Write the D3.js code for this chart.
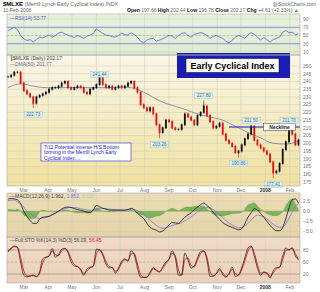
<!DOCTYPE html>
<html>
<head>
<meta charset="utf-8">
<script src="https://cdn.jsdelivr.net/npm/d3@7"></script>
<style>
  body { margin: 0; background: #fff; }
  svg { display: block; font-family: Arial, "Liberation Sans", sans-serif; }
</style>
</head>
<body>
<div id="chart"></div>
<script>
var svgWidth = 320;
var svgHeight = 292;
var left = 7, right = 300;

// samples every 4 calendar days, 9-Feb-2007 .. 12-Feb-2008
var startDate = new Date(2007, 1, 9);
var stepDays = 4;

var closes = [243,244,246,246,239,234,232,230,226,230,
  231,232,233,235,236,236,237,239,240,236,
  235,236,237,236,233,232,235,236,238,243,
  238,236,237,235,236,237,236,237,239,240,
  236,233,225,223,221,223,219,212,207,210,
  215,214,210,209,209,212,219,217,215,212,
  218,220,224,218,214,210,211,213,206,202,
  200,198,194,195,199,203,206,211,202,199,
  197,195,193,188,181,182,187,196,201,209,
  206,199,202.17];

// 50-day moving average, every 16 days
var dma50 = [236,238.5,237,236,236,236,236,236,236,236.5,235.5,232,
  227.5,224.5,222,219,217,215,211,207,203.5,200,199.5,201.5];

var rsi = [62,66,70,64,50,42,38,40,34,40,
  46,44,48,51,46,50,56,58,54,51,
  48,45,50,47,43,48,51,55,66,60,
  55,51,50,47,46,50,56,52,51,57,
  52,46,36,32,39,42,43,36,39,42,
  46,50,49,43,50,55,57,50,46,53,
  55,57,55,50,43,48,50,46,43,36,
  32,38,46,50,47,43,52,57,53,46,
  39,45,40,34,40,43,46,58,62,57,
  58,52,53.77];

var macd = [3.0,3.1,3.0,2.8,1.8,0.0,-1.3,-2.3,-3.0,-3.0,
  -2.0,-1.5,-1.4,-1.3,-0.9,-0.5,0.0,0.5,0.9,1.0,
  0.9,0.6,0.4,0.2,0.0,-0.2,-0.3,0.3,1.4,1.1,
  0.7,0.5,0.3,0.25,0.25,0.25,0.25,0.25,0.4,0.7,
  0.3,-0.5,-1.2,-1.8,-3.0,-4.0,-4.4,-4.7,-5.1,-4.9,
  -4.2,-3.4,-2.8,-2.9,-3.0,-2.3,-1.5,-0.9,-0.4,0.4,
  1.0,1.6,2.0,1.4,0.7,-0.3,-1.2,-2.0,-2.8,-3.3,
  -3.7,-4.0,-4.3,-4.6,-4.3,-3.1,-1.5,-0.4,0.6,0.3,
  -0.6,-1.5,-2.5,-3.5,-4.3,-4.8,-4.8,-4.0,-1.8,0.8,
  2.8,3.0,1.962];

var signal = [2.6,2.7,2.7,2.3,1.8,1.0,0.0,-0.5,-1.2,-1.6,
  -1.8,-1.7,-1.5,-1.2,-0.8,-0.4,0.0,0.4,0.6,0.8,
  0.9,0.9,0.8,0.6,0.4,0.3,0.2,0.3,0.6,0.7,
  0.7,0.6,0.5,0.4,0.35,0.3,0.3,0.3,0.35,0.45,
  0.4,0.1,-0.3,-0.8,-1.5,-2.3,-2.9,-3.5,-4.0,-4.2,
  -4.1,-3.8,-3.5,-3.3,-3.1,-2.8,-2.4,-1.9,-1.4,-0.8,
  -0.2,0.3,0.8,0.9,0.8,0.4,-0.2,-0.9,-1.6,-2.3,
  -2.9,-3.4,-3.8,-4.1,-4.0,-3.6,-3.0,-2.2,-1.4,-1.0,
  -1.1,-1.4,-1.9,-2.6,-3.2,-3.7,-4.0,-3.9,-3.1,-1.7,
  -0.2,1.2,1.852];

var stoK = [78,85,90,86,50,17,13,15,17,13,
  25,58,62,65,84,62,68,82,84,74,
  50,40,38,30,17,32,37,40,82,80,
  67,45,35,37,22,35,52,58,52,78,
  68,35,12,11,12,25,36,28,25,38,
  50,58,78,60,17,17,72,55,35,40,
  60,76,78,55,14,15,22,34,18,12,
  22,37,14,18,35,60,85,90,65,35,
  17,25,22,10,28,36,37,65,85,80,
  86,65,56.09];

var stoD = [75,83,88,87,61,28,15,15,16,14,
  22,48,61,64,78,68,66,78,83,77,
  58,44,39,33,21,28,35,39,69,81,
  71,52,39,36,27,32,47,56,54,70,
  71,45,19,12,12,21,33,30,26,34,
  46,56,72,65,30,17,56,60,41,38,
  54,71,77,62,26,15,20,30,23,14,
  19,32,21,17,30,52,77,88,72,44,
  22,23,23,14,23,33,37,56,79,81,
  84,71,56.45];

var monthLabels = ["Mar","Apr","May","Jun","Jul","Aug","Sep","Oct","Nov","Dec","2008","Feb"];
var priceTicks = d3.range(175, 251, 5);
var rsiTicks = [10, 30, 50, 70, 90];
var macdTicks = [2.5, 0, -2.5, -5];
var stoTicks = [20, 50, 80];

// price annotations: sample index, value, above/below
var notes = [
  {i: 8, value: 222.73, pos: "low"},
  {i: 29, value: 241.44, pos: "high"},
  {i: 62, value: 227.80, pos: "high"},
  {i: 48, value: 203.26, pos: "low"},
  {i: 73, value: 190.86, pos: "low"},
  {i: 77, value: 211.50, pos: "high"},
  {i: 84, value: 177.41, pos: "low"},
  {i: 89, value: 211.70, pos: "high"}
];
var necklineStart = 70, necklineValue = 210.6;

var dates = closes.map(function(d, i) { return d3.timeDay.offset(startDate, i * stepDays); });
var maDates = dma50.map(function(d, i) { return d3.timeDay.offset(startDate, i * stepDays * 4); });

var x = d3.scaleTime()
  .domain([startDate, d3.timeDay.offset(startDate, 92 * stepDays)])
  .range([left + 1, right - 1.5]);

var panels = {
  rsi:   {top: 14, bottom: 55},
  price: {top: 55, bottom: 186},
  macd:  {top: 193, bottom: 237},
  sto:   {top: 237, bottom: 283}
};

var yRsi = d3.scaleLinear().domain([0, 100]).range([56, 15]);
var yPrice = d3.scaleLinear().domain([175, 250]).range([182, 66]);
var yMacd = d3.scaleLinear().domain([-5, 2.5]).range([231.5, 201]);
var ySto = d3.scaleLinear().domain([0, 100]).range([282, 242]);

var svg = d3.select("#chart").append("svg")
  .attr("width", svgWidth)
  .attr("height", svgHeight);

var defs = svg.append("defs");
function grad(id, c1, c2) {
  var g = defs.append("linearGradient").attr("id", id)
    .attr("x1", 0).attr("y1", 0).attr("x2", 0).attr("y2", 1);
  g.append("stop").attr("offset", "0%").attr("stop-color", c1);
  g.append("stop").attr("offset", "100%").attr("stop-color", c2);
}
grad("gRsi", "#e9f1de", "#dfeccf");
grad("gPrice", "#faf6e6", "#f1e19f");
grad("gMacd", "#ebdcb6", "#e6d3a6");
grad("gSto", "#f1dbc6", "#ecd1ba");

var months = d3.timeMonth.range(new Date(2007, 2, 1), new Date(2008, 1, 13));

// panel backgrounds + grids
function drawPanel(p, fill, yScale, ticks, fmt) {
  svg.append("rect")
    .attr("x", left).attr("y", p.top)
    .attr("width", right - left).attr("height", p.bottom - p.top)
    .attr("fill", fill);
  svg.append("g").selectAll("line")
    .data(months).enter().append("line")
    .attr("x1", d => x(d)).attr("x2", d => x(d))
    .attr("y1", p.top).attr("y2", p.bottom)
    .attr("stroke", "#cfcfc0").attr("stroke-width", 0.6);
  svg.append("g").selectAll("line")
    .data(ticks).enter().append("line")
    .attr("x1", left).attr("x2", right)
    .attr("y1", d => yScale(d)).attr("y2", d => yScale(d))
    .attr("stroke", "#cfcfc0").attr("stroke-width", 0.6);
  svg.append("g").selectAll("text")
    .data(ticks).enter().append("text")
    .attr("x", right + 3).attr("y", d => yScale(d) + 1.8)
    .attr("font-size", "5px").attr("fill", "#777")
    .text(fmt);
}
drawPanel(panels.rsi, "url(#gRsi)", yRsi, rsiTicks, d => d);
drawPanel(panels.price, "url(#gPrice)", yPrice, priceTicks, d => d);
drawPanel(panels.macd, "url(#gMacd)", yMacd, macdTicks, d3.format(".1f"));
drawPanel(panels.sto, "url(#gSto)", ySto, stoTicks, d => d);

// month labels
function monthAxis(yPos) {
  svg.append("g").selectAll("text")
    .data(months).enter().append("text")
    .attr("x", d => x(d)).attr("y", yPos)
    .attr("text-anchor", "middle")
    .attr("font-size", "5px")
    .attr("font-weight", (d, i) => monthLabels[i] === "2008" ? "bold" : "normal")
    .attr("fill", (d, i) => monthLabels[i] === "2008" ? "#333" : "#777")
    .text((d, i) => monthLabels[i]);
}
monthAxis(191.5);
monthAxis(289);

// ---- RSI panel ----
[70, 30].forEach(function(v) {
  svg.append("line").attr("x1", left).attr("x2", right)
    .attr("y1", yRsi(v)).attr("y2", yRsi(v))
    .attr("stroke", "#7f8fe0").attr("stroke-width", 0.9);
});
svg.append("line").attr("x1", left).attr("x2", right)
  .attr("y1", yRsi(50)).attr("y2", yRsi(50))
  .attr("stroke", "#9aa0b8").attr("stroke-width", 0.5).attr("stroke-dasharray", "2,2");
svg.append("path")
  .datum(rsi)
  .attr("fill", "none").attr("stroke", "#3f4fd0").attr("stroke-width", 0.7)
  .attr("d", d3.line().x((d, i) => x(dates[i])).y(d => yRsi(d)));

// ---- price panel ----
svg.append("path")
  .datum(dma50)
  .attr("fill", "none").attr("stroke", "#5d6c9c").attr("stroke-width", 0.7)
  .attr("d", d3.line().curve(d3.curveMonotoneX).x((d, i) => x(maDates[i])).y(d => yPrice(d)));

// wicks to marked highs / lows
svg.append("g").selectAll("line")
  .data(notes).enter().append("line")
  .attr("x1", d => x(dates[d.i])).attr("x2", d => x(dates[d.i]))
  .attr("y1", d => yPrice(closes[d.i])).attr("y2", d => yPrice(d.value))
  .attr("stroke", d => d.pos === "high" ? "#222" : "#d01010").attr("stroke-width", 0.6);

var candles = svg.append("g");
candles.selectAll("line")
  .data(closes).enter().append("line")
  .attr("x1", (d, i) => x(dates[i])).attr("x2", (d, i) => x(dates[i]))
  .attr("y1", (d, i) => yPrice(Math.max(d, i ? closes[i - 1] : d)) - 1.5)
  .attr("y2", (d, i) => yPrice(Math.min(d, i ? closes[i - 1] : d)) + 1.5)
  .attr("stroke", (d, i) => (i && d < closes[i - 1]) ? "#e01010" : "#111")
  .attr("stroke-width", 0.5);
candles.selectAll("rect")
  .data(closes).enter().append("rect")
  .attr("x", (d, i) => x(dates[i]) - 0.9)
  .attr("width", 1.8)
  .attr("y", (d, i) => yPrice(Math.max(d, i ? closes[i - 1] : d)) - 0.5)
  .attr("height", (d, i) => Math.abs(yPrice(d) - yPrice(i ? closes[i - 1] : d)) + 1)
  .attr("fill", (d, i) => (i && d < closes[i - 1]) ? "#e01010" : "#111");

// neckline
svg.append("line")
  .attr("x1", x(dates[necklineStart])).attr("x2", right)
  .attr("y1", yPrice(necklineValue)).attr("y2", yPrice(necklineValue))
  .attr("stroke", "#1a1acc").attr("stroke-width", 1.1);
var nk = svg.append("g").attr("transform", "translate(" + x(dates[86]) + "," + yPrice(necklineValue) + ")");
nk.append("rect").attr("x", -16).attr("y", -3.5).attr("width", 32).attr("height", 7)
  .attr("fill", "#fff").attr("stroke", "#333").attr("stroke-width", 0.5);
nk.append("text").attr("text-anchor", "middle").attr("y", 1.8)
  .attr("font-size", "5px").attr("font-weight", "bold").attr("fill", "#222").text("Neckline");

// value labels
var lab = svg.append("g").selectAll("g")
  .data(notes).enter().append("g")
  .attr("transform", d => "translate(" + x(dates[d.i]) + "," +
    (d.pos === "high" ? yPrice(d.value) - 5 : yPrice(d.value) + 6) + ")");
lab.append("rect").attr("x", -9).attr("y", -3).attr("width", 18).attr("height", 6)
  .attr("fill", "#dff1f1").attr("stroke", "#8cc0c8").attr("stroke-width", 0.4);
lab.append("text").attr("text-anchor", "middle").attr("y", 1.7)
  .attr("font-size", "4.6px").attr("fill", "#3a6f7a").text(d => d.value.toFixed(2));

// comment box
var cb = svg.append("g").attr("transform", "translate(41,143)");
cb.append("rect").attr("width", 90).attr("height", 18)
  .attr("fill", "#fff").attr("stroke", "#2a2ad0").attr("stroke-width", 0.6);
["7/11  Potential Inverse H/S Bottom", "forming in the Merrill Lynch Early", "Cyclical Index...."]
  .forEach(function(t, k) {
    cb.append("text").attr("x", 3).attr("y", 5.5 + k * 5.6)
      .attr("font-size", "5px").attr("fill", "#1a1ad8").text(t);
  });

// title banner
var tb = svg.append("g").attr("transform", "translate(177,53)");
tb.append("rect").attr("width", 113).attr("height", 25).attr("fill", "#1c1cb4");
tb.append("rect").attr("x", 9).attr("y", 5.5).attr("width", 93).attr("height", 14)
  .attr("fill", "#fff").attr("stroke", "#000").attr("stroke-width", 0.5);
tb.append("text").attr("x", 55.5).attr("y", 16).attr("text-anchor", "middle")
  .attr("font-size", "9px").attr("font-weight", "bold").attr("fill", "#000")
  .attr("textLength", 84).attr("lengthAdjust", "spacingAndGlyphs")
  .text("Early Cyclical Index");

// ---- MACD panel ----
var hist = macd.map((d, i) => d - signal[i]);
svg.append("path")
  .datum(hist)
  .attr("fill", "#7db55a").attr("stroke", "#4e8a35").attr("stroke-width", 0.3)
  .attr("d", d3.area().curve(d3.curveMonotoneX)
    .x((d, i) => x(dates[i])).y0(yMacd(0)).y1(d => yMacd(d)));
svg.append("path")
  .datum(signal)
  .attr("fill", "none").attr("stroke", "#7f6fe8").attr("stroke-width", 0.8)
  .attr("d", d3.line().curve(d3.curveMonotoneX).x((d, i) => x(dates[i])).y(d => yMacd(d)));
svg.append("path")
  .datum(macd)
  .attr("fill", "none").attr("stroke", "#111").attr("stroke-width", 0.8)
  .attr("d", d3.line().curve(d3.curveMonotoneX).x((d, i) => x(dates[i])).y(d => yMacd(d)));

// ---- STO panel ----
[80, 20].forEach(function(v) {
  svg.append("line").attr("x1", left).attr("x2", right)
    .attr("y1", ySto(v)).attr("y2", ySto(v))
    .attr("stroke", "#a89888").attr("stroke-width", 0.8);
});
svg.append("line").attr("x1", left).attr("x2", right)
  .attr("y1", ySto(50)).attr("y2", ySto(50))
  .attr("stroke", "#a89888").attr("stroke-width", 0.5).attr("stroke-dasharray", "2,2");
svg.append("path")
  .datum(stoD)
  .attr("fill", "none").attr("stroke", "#e01818").attr("stroke-width", 0.9)
  .attr("d", d3.line().curve(d3.curveMonotoneX).x((d, i) => x(dates[i])).y(d => ySto(d)));
svg.append("path")
  .datum(stoK)
  .attr("fill", "none").attr("stroke", "#111").attr("stroke-width", 0.7)
  .attr("d", d3.line().curve(d3.curveMonotoneX).x((d, i) => x(dates[i])).y(d => ySto(d)));

// panel borders
Object.keys(panels).forEach(function(k) {
  var p = panels[k];
  svg.append("rect").attr("x", left).attr("y", p.top)
    .attr("width", right - left).attr("height", p.bottom - p.top)
    .attr("fill", "none").attr("stroke", "#a8a8a8").attr("stroke-width", 0.6);
});

// panel legends
function legend(y, parts) {
  var t = svg.append("text").attr("x", 10).attr("y", y).attr("font-size", "5px");
  parts.forEach(function(p) {
    t.append("tspan").attr("fill", p[1]).attr("font-weight", p[2] || "normal").text(p[0]);
  });
}
legend(19.5, [["\u2014RSI(14) " + rsi[rsi.length - 1], "#5560c0"]]);
legend(60, [["\u2503$MLXE (Daily) " + closes[closes.length - 1], "#444"]]);
legend(65.5, [["\u2014DMA(50) 201.77", "#5d6c9c"]]);
legend(197.5, [["\u2014MACD(12,26,9) " + macd[macd.length - 1] + ", ", "#444"],
  [signal[signal.length - 1] + ", ", "#7f6fe8"], ["0.110", "#b5c9a0"]]);
legend(242, [["\u2014Full STO %K(14,3) %D(3) " + stoK[stoK.length - 1] + ", ", "#444"],
  [stoD[stoD.length - 1], "#e01818"]]);

// header
var h1 = svg.append("text").attr("x", 3).attr("y", 6).attr("font-size", "5.2px");
h1.append("tspan").attr("font-weight", "bold").attr("font-size", "6px").attr("fill", "#000").text("$MLXE ");
h1.append("tspan").attr("fill", "#666").text("(Merrill Lynch Early Cyclical Index) INDX");
svg.append("text").attr("x", 316).attr("y", 6).attr("text-anchor", "end")
  .attr("font-size", "5px").attr("fill", "#666").text("@StockCharts.com");
svg.append("text").attr("x", 3).attr("y", 12).attr("font-size", "5px").attr("fill", "#666").text("11-Feb-2008");
var h2 = svg.append("text").attr("x", 127).attr("y", 12).attr("font-size", "5px");
[["Open", "197.66"], ["High", "202.44"], ["Low", "196.78"], ["Close", "202.17"], ["Chg", "+4.61 (+2.33%)"]]
  .forEach(function(p) {
    h2.append("tspan").attr("font-weight", "bold").attr("fill", "#111").text(p[0] + " ");
    h2.append("tspan").attr("fill", "#666").text(p[1] + " ");
  });
h2.append("tspan").attr("fill", "#2a9a2a").text("\u25b2");
</script>
</body>
</html>
